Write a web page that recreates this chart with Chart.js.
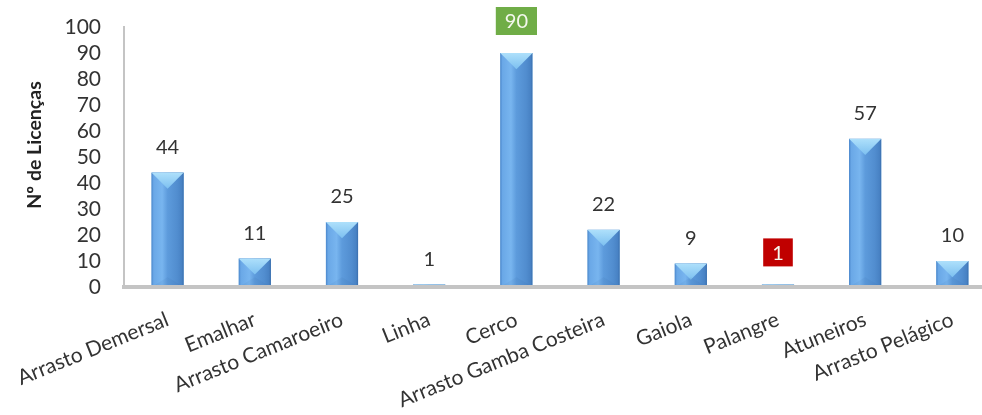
<!DOCTYPE html>
<html>
<head>
<meta charset="utf-8">
<script src="https://cdn.jsdelivr.net/npm/chart.js@4.4.1/dist/chart.umd.min.js"></script>
<style>
  html, body { margin: 0; padding: 0; background: #ffffff; overflow: hidden; }
  #wrap { position: relative; width: 1000px; height: 415px; }
</style>
</head>
<body>
<div id="wrap"><canvas id="chart"></canvas></div>
<script>
// Licences per fishing segment
const categories = [
  'Arrasto Demersal', 'Emalhar', 'Arrasto Camaroeiro', 'Linha', 'Cerco',
  'Arrasto Gamba Costeira', 'Gaiola', 'Palangre', 'Atuneiros', 'Arrasto Pelágico'
];
const licencas = [44, 11, 25, 1, 90, 22, 9, 1, 57, 10];
const yTickValues = [0, 10, 20, 30, 40, 50, 60, 70, 80, 90, 100];
const yAxisTitle = 'Nº de Licenças';

// Styling
const FONT = 'Lato, "Open Sans", sans-serif';
const TEXT = '#333333';
const AXIS_LINE = '#c4c4c4';
const labelBoxes = { 4: '#70ad47', 7: '#c00000' }; // boxed value labels (largest / Palangre)

// Bevelled bar look drawn over each bar element
const bevelPlugin = {
  id: 'bevel',
  afterDatasetsDraw(chart) {
    const ctx = chart.ctx;
    const meta = chart.getDatasetMeta(0);
    meta.data.forEach((bar) => {
      const { x, y, base, width } = bar.getProps(['x', 'y', 'base', 'width'], true);
      const l = x - width / 2, r = x + width / 2;
      const t = Math.min(y, base), b = Math.max(y, base);
      const h = b - t;
      if (h <= 0) return;
      ctx.save();
      ctx.beginPath();
      ctx.rect(l, t, width, h);
      ctx.clip();
      const g = ctx.createLinearGradient(l, 0, r, 0);
      g.addColorStop(0, '#4a86cc');
      g.addColorStop(0.07, '#6aa8e7');
      g.addColorStop(0.33, '#78b5ef');
      g.addColorStop(0.5, '#5d9bdc');
      g.addColorStop(0.8, '#518dcf');
      g.addColorStop(0.94, '#4882c4');
      g.addColorStop(1, '#3a6dab');
      ctx.fillStyle = g;
      ctx.fillRect(l, t, width, h);
      // top facet
      const d = width / 2;
      const tg = ctx.createLinearGradient(0, t, 0, t + d);
      tg.addColorStop(0, '#aee0fb');
      tg.addColorStop(1, '#7dc0f0');
      ctx.fillStyle = tg;
      ctx.beginPath();
      ctx.moveTo(l, t);
      ctx.lineTo(r, t);
      ctx.lineTo(x, t + d);
      ctx.closePath();
      ctx.fill();
      // bottom facet
      ctx.fillStyle = 'rgba(40, 80, 140, 0.07)';
      ctx.beginPath();
      ctx.moveTo(l, b);
      ctx.lineTo(r, b);
      ctx.lineTo(x, b - d * 0.6);
      ctx.closePath();
      ctx.fill();
      ctx.restore();
    });
  }
};

// Value labels above the bars
const valueLabelPlugin = {
  id: 'valueLabels',
  afterDatasetsDraw(chart) {
    const ctx = chart.ctx;
    const meta = chart.getDatasetMeta(0);
    const data = chart.data.datasets[0].data;
    ctx.save();
    ctx.font = '20px ' + FONT;
    ctx.textAlign = 'center';
    ctx.textBaseline = 'middle';
    meta.data.forEach((bar, i) => {
      const text = String(data[i]);
      const top = Math.min(bar.y, bar.base);
      const box = labelBoxes[i];
      if (box) {
        const w = ctx.measureText(text).width + 18;
        const hgt = 28;
        const cy = top - 32;
        ctx.fillStyle = box;
        ctx.fillRect(bar.x - w / 2, cy - hgt / 2, w, hgt);
        ctx.fillStyle = '#f4f8ee';
        ctx.fillText(text, bar.x, cy + 1);
      } else {
        ctx.fillStyle = TEXT;
        ctx.fillText(text, bar.x, top - 25);
      }
    });
    ctx.restore();
  }
};

// Vertical axis title
const axisTitlePlugin = {
  id: 'axisTitle',
  afterDraw(chart) {
    const ctx = chart.ctx;
    const area = chart.chartArea;
    const ys = chart.scales.y;
    ctx.save();
    ctx.font = 'bold 19.5px ' + FONT;
    ctx.fillStyle = '#222222';
    ctx.textAlign = 'center';
    ctx.textBaseline = 'middle';
    ctx.translate(ys.left + 35, (area.top + area.bottom) / 2 - 12);
    ctx.rotate(-Math.PI / 2);
    ctx.fillText(yAxisTitle, 0, 0);
    ctx.restore();
  }
};

new Chart(document.getElementById('chart'), {
  type: 'bar',
  data: {
    labels: categories,
    datasets: [{
      data: licencas,
      backgroundColor: '#5b9bd5',
      borderWidth: 0,
      barPercentage: 0.37,
      categoryPercentage: 1
    }]
  },
  options: {
    responsive: true,
    maintainAspectRatio: false,
    animation: false,
    devicePixelRatio: 1,
    layout: { padding: { top: 27, left: 0, right: 4, bottom: 0 } },
    plugins: {
      legend: { display: false },
      tooltip: { enabled: false },
      title: { display: false }
    },
    scales: {
      x: {
        grid: { display: false, drawTicks: false },
        border: { display: true, color: AXIS_LINE, width: 4, z: 1 },
        ticks: {
          font: { family: FONT, size: 21 },
          color: TEXT,
          autoSkip: false,
          minRotation: 22,
          maxRotation: 22,
          padding: 20
        },
        afterFit(scale) {
          scale.height = 128;
          scale.paddingLeft = 0;
          scale.paddingRight = 0;
        }
      },
      y: {
        min: 0,
        max: 100,
        grid: { display: false, drawTicks: false },
        border: { display: true, color: AXIS_LINE, width: 2 },
        ticks: {
          font: { family: FONT, size: 21 },
          color: TEXT,
          autoSkip: false,
          padding: 23
        },
        afterBuildTicks(scale) {
          scale.ticks = yTickValues.map(v => ({ value: v }));
        },
        afterFit(scale) {
          scale.width = 124;
          scale.paddingTop = 0;
          scale.paddingBottom = 0;
        }
      }
    }
  },
  plugins: [bevelPlugin, valueLabelPlugin, axisTitlePlugin]
});
</script>
</body>
</html>
